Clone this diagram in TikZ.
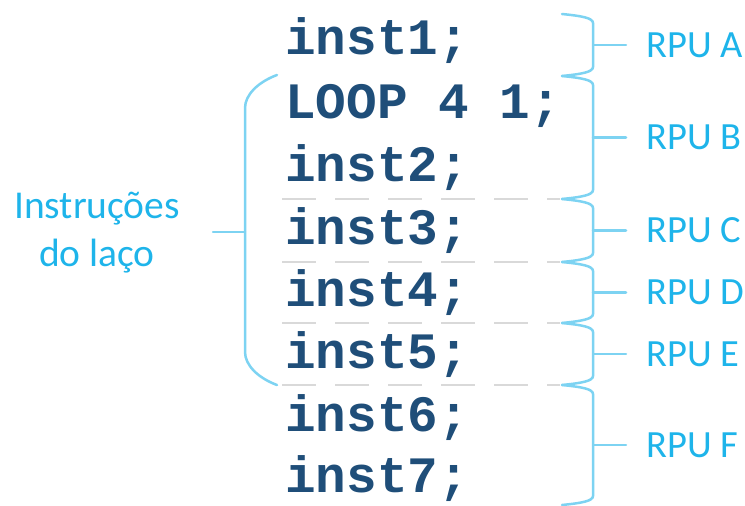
\documentclass[tikz,border=0pt]{standalone}
\usepackage{fontspec}
\setmainfont{Carlito}
\newfontfamily\codefont{Liberation Mono}
\definecolor{codeblue}{HTML}{1F4E79}
\definecolor{labblue}{HTML}{1EB4EA}
\definecolor{brblue}{HTML}{7DD3F2}
\definecolor{dashgray}{HTML}{D9D9D9}
\newcommand\rpubrace[4]{%
  \draw[bracestyle] (562,#1) .. controls (582,{#1+2}) and (593,{#1+4}) .. (593,{#1+9})
    -- (593,{#2-9}) .. controls (593,{#2-4}) and (582,{#2-2}) .. (562,#2);
  \coordinate (#3s) at (593,{(#1+#2)/2});
  \coordinate (#3e) at (626,{(#1+#2)/2});
  \node[lab] (#3) at (646,{(#1+#2)/2}) {#4};
  \draw[bracestyle] (#3s) -- (#3e);
}
\begin{document}
\begin{tikzpicture}[x=1pt,y=-1pt,
  code/.style={anchor=base west, inner sep=0pt, text=codeblue, font=\codefont\bfseries\fontsize{51}{51}\selectfont},
  lab/.style={anchor=west, inner sep=0pt, text=labblue, font=\fontsize{38.5}{38.5}\selectfont},
  bracestyle/.style={draw=brblue, line width=2.5pt, line cap=round},
  sep/.style={draw=dashgray, line width=2pt, dash pattern=on 34pt off 19pt}]
\useasboundingbox (0,0) rectangle (745,506);
% code lines
\node[code] (l1) at (285,54) {inst1;};
\node[code] (l2) at (285,118) {LOOP 4 1;};
\node[code] (l3) at (285,181) {inst2;};
\node[code] (l4) at (285,244) {inst3;};
\node[code] (l5) at (285,306) {inst4;};
\node[code] (l6) at (285,368) {inst5;};
\node[code] (l7) at (285,431) {inst6;};
\node[code] (l8) at (285,492) {inst7;};
% separators
\coordinate (d1a) at (282,199); \coordinate (d1b) at (560,199);
\coordinate (d2a) at (282,262); \coordinate (d2b) at (560,262);
\coordinate (d3a) at (282,323); \coordinate (d3b) at (560,323);
\coordinate (d4a) at (282,385); \coordinate (d4b) at (560,385);
\draw[sep] (d1a) -- (d1b);
\draw[sep] (d2a) -- (d2b);
\draw[sep] (d3a) -- (d3b);
\draw[sep] (d4a) -- (d4b);
% right braces
\rpubrace{14}{76}{ra}{RPU A}
\rpubrace{76}{199}{rb}{RPU B}
\rpubrace{199}{262}{rc}{RPU C}
\rpubrace{262}{323}{rd}{RPU D}
\rpubrace{323}{385}{re}{RPU E}
\rpubrace{385}{505}{rf}{RPU F}
% left brace
\draw[bracestyle] (277,75) .. controls (258,82) and (245,95) .. (245,108)
  -- (245,352) .. controls (245,365) and (258,378) .. (277,385);
\coordinate (lbs) at (245,232);
\coordinate (lbe) at (213,232);
\draw[bracestyle] (lbs) -- (lbe);
\node[text=labblue, font=\fontsize{39.5}{48}\selectfont, align=center, inner sep=0pt] (loop) at (97,233) {Instruções\\do laço};
\end{tikzpicture}
\end{document}
